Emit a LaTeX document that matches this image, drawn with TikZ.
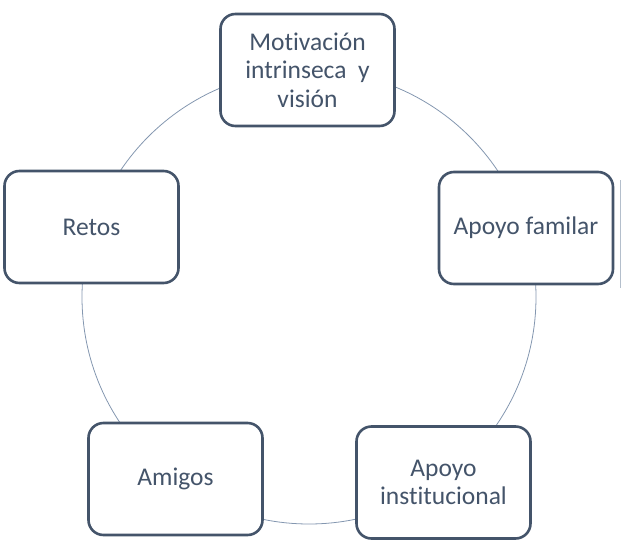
\documentclass[tikz,border=0pt]{standalone}
\usepackage{fontspec}
\setmainfont{Carlito}[Ligatures=NoCommon]
\definecolor{boxline}{HTML}{44546A}
\definecolor{txt}{HTML}{44546A}
\definecolor{ring}{HTML}{8497B0}
\definecolor{edge}{HTML}{B4BFCC}
\begin{document}
\begin{tikzpicture}[x=1pt,y=-1pt,
  box/.style={draw=boxline, line width=2.6pt, rounded corners=15pt, fill=white,
    minimum width=174pt, minimum height=112pt, text=txt, align=center,
    font=\fontsize{25.5}{28.5}\selectfont, inner sep=0pt}]
\useasboundingbox (0,0) rectangle (622,544);
\coordinate (c) at (309,297);
\draw[ring, line width=0.8pt] (c) circle[radius=227pt];
\node[box] (mot) at (307.5,70) {Motivación\\intrinseca\ \ y\\visión};
\node[box] (fam) at (526,228) {Apoyo familar};
\node[box] (ret) at (91.5,227) {Retos};
\node[box] (ami) at (175.5,479) {Amigos};
\node[box] (ins) at (443.5,482.5) {Apoyo\\institucional};
\coordinate (e1) at (620.5,180);
\coordinate (e2) at (620.5,288);
\draw[edge, line width=1.2pt] (e1) -- (e2);
\end{tikzpicture}
\end{document}
